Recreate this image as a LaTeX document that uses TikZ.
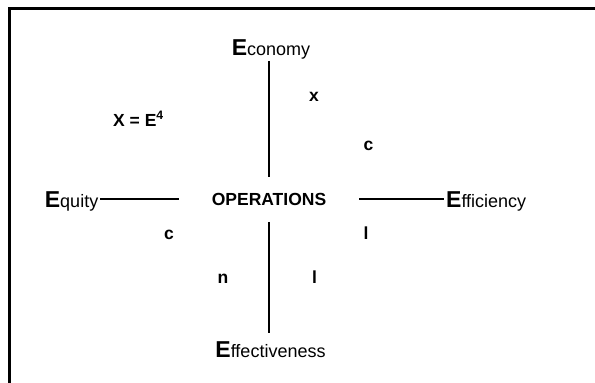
\documentclass[tikz,border=0pt]{standalone}
\usepackage{fontspec}
\setmainfont{Liberation Sans}
\usetikzlibrary{positioning}
\newcommand{\Eword}[1]{{\fontsize{23}{23}\selectfont\bfseries E}{\fontsize{18}{20}\selectfont #1}}

\begin{document}
\begin{tikzpicture}[x=1pt, y=-1pt,
  pole/.style={inner sep=2pt, anchor=base},
  letter/.style={font=\fontsize{17.5}{20}\selectfont\bfseries, inner sep=0pt, anchor=base},
  link/.style={line width=2pt},
]
\useasboundingbox (0,0) rectangle (595,383);
% open frame: left and top edges only
\draw[line width=3pt] (9,383) -- (9,8.5) -- (595,8.5);

% centre and the four E's
\node[letter, inner xsep=33pt, inner ysep=16pt, text height=12.5pt, text depth=0pt] (ops) at (269,205.7) {OPERATIONS};
\node[pole] (economy) at (271,55) {\Eword{conomy}};
\node[pole] (effect) at (270.5,357) {\Eword{ffectiveness}};
\node[pole, anchor=base west] (equity) at (42.7,207) {\Eword{quity}};
\node[pole, anchor=base west] (efficiency) at (444,207) {\Eword{fficiency}};

\draw[link] (economy.south -| ops.north) -- (ops.north);
\draw[link, shorten >=6pt] (ops.south) -- (effect.north -| ops.south);
\draw[link] (equity.east |- ops.west) -- (ops.west);
\draw[link] (ops.east) -- (efficiency.west |- ops.east);

% formula and scattered letters
\node[letter, anchor=base west] (formula) at (113,126) {X = E\textsuperscript{4}};
\node[letter] (lx) at (314,101.7) {x};
\node[letter] (lc1) at (368.6,150) {c};
\node[letter] (lc2) at (169,239) {c};
\node[letter] (ll1) at (366,239) {l};
\node[letter] (ln) at (223,283) {n};
\node[letter] (ll2) at (314.5,283) {l};
\end{tikzpicture}
\end{document}
